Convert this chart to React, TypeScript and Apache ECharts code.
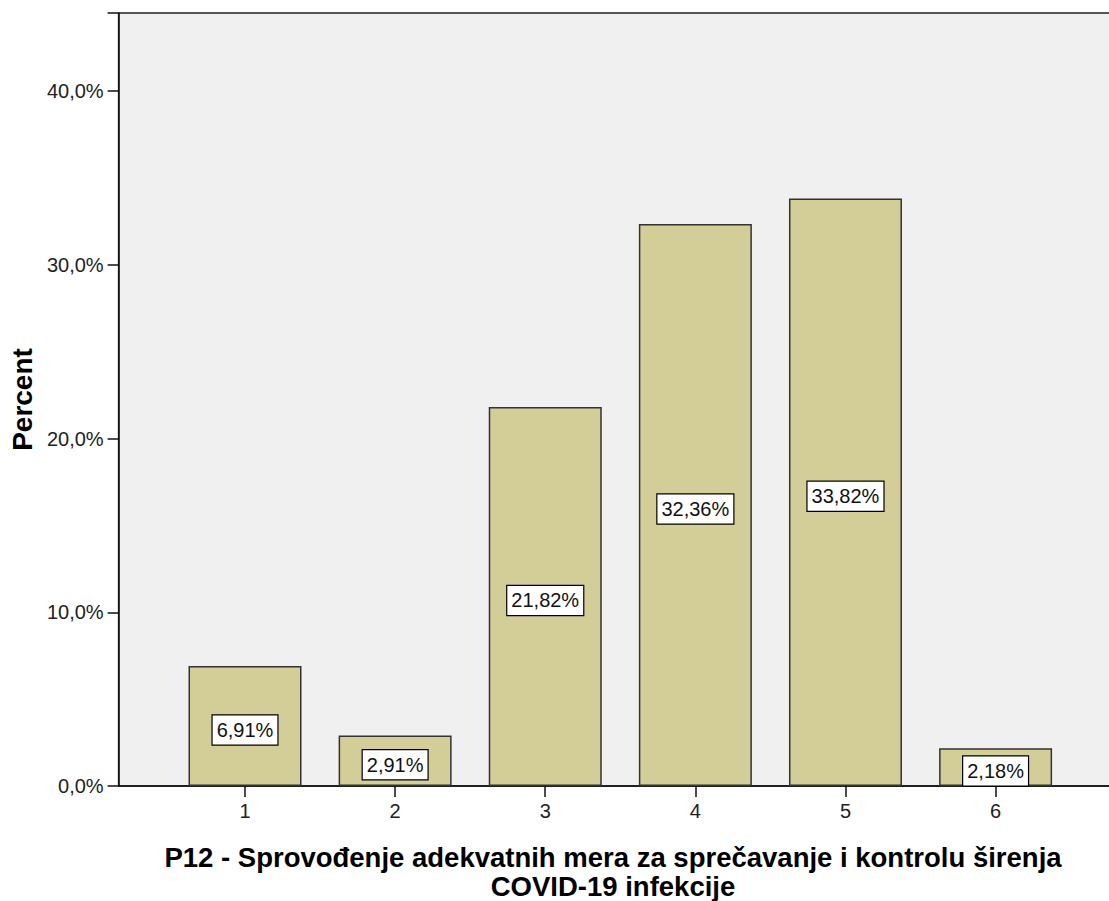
import React, { useEffect, useRef } from "react";
import * as echarts from "echarts";

const categories = ["1", "2", "3", "4", "5", "6"];
const percentValues = [6.91, 2.91, 21.82, 32.36, 33.82, 2.18];
const yTickValues = [0, 10, 20, 30, 40];
const yAxisTitle = "Percent";
const xAxisTitle = "P12 - Sprovođenje adekvatnih mera za sprečavanje i kontrolu širenja\nCOVID-19 infekcije";

const fmtComma = (v: number, d: number) => v.toFixed(d).replace(".", ",");

export default function App() {
  const ref = useRef<HTMLDivElement>(null);
  useEffect(() => {
    document.body.style.margin = "0";
    if (!ref.current) return;
    const chart = echarts.init(ref.current, null, { renderer: "svg" });
    const font = "'Liberation Sans', Arial, sans-serif";
    chart.setOption({
      animation: false,
      grid: {
        left: 117,
        top: 13,
        right: 0,
        bottom: 115,
        show: true,
        backgroundColor: "#f0f0f0",
        borderColor: "#222",
        borderWidth: 1.5,
      },
      xAxis: {
        type: "value",
        min: 0.158,
        max: 6.842,
        splitLine: { show: false },
        axisLine: { show: true, lineStyle: { color: "#111", width: 1.5 } },
        axisTick: {
          show: true,
          length: 11,
          lineStyle: { color: "#111", width: 1.5 },
          customValues: categories.map((_, i) => i + 1),
        },
        axisLabel: {
          customValues: categories.map((_, i) => i + 1),
          formatter: (v: number) => categories[Math.round(v) - 1] ?? "",
          fontSize: 20,
          fontFamily: font,
          color: "#222",
          margin: 15,
        },
      },
      yAxis: {
        type: "value",
        min: 0,
        max: 44.5,
        interval: 10,
        name: yAxisTitle,
        nameLocation: "middle",
        nameRotate: 90,
        nameGap: 82,
        nameTextStyle: { fontSize: 28, fontWeight: "bold", fontFamily: font, color: "#000" },
        splitLine: { show: false },
        axisLine: { show: true, lineStyle: { color: "#111", width: 1.5 } },
        axisTick: { show: true, length: 11, lineStyle: { color: "#111", width: 1.5 } },
        axisLabel: {
          customValues: yTickValues,
          formatter: (v: number) => fmtComma(v, 1) + "%",
          fontSize: 20,
          fontFamily: font,
          color: "#222",
          margin: 15,
        },
      },
      graphic: [
        {
          type: "text",
          x: 613,
          y: 843,
          style: {
            text: xAxisTitle,
            textAlign: "center",
            textVerticalAlign: "top",
            fontSize: 27.5,
            fontWeight: "bold",
            fontFamily: font,
            lineHeight: 29,
            fill: "#000",
          },
        },
      ],
      series: [
        {
          type: "bar",
          barWidth: 113,
          data: percentValues.map((v, i) => [i + 1, v]),
          itemStyle: { color: "#d3ce97", borderColor: "#333", borderWidth: 1.5 },
          label: {
            show: true,
            position: "inside",
            offset: [0, 4],
            formatter: (p: any) => fmtComma(p.value[1], 2) + "%",
            fontSize: 20,
            fontFamily: font,
            color: "#111",
            backgroundColor: "#fff",
            borderColor: "#000",
            borderWidth: 1.2,
            padding: [5, 4, 4, 4],
          },
        },
      ],
    });
    return () => chart.dispose();
  }, []);
  return (
    <div style={{ width: 1109, height: 901, overflow: "hidden" }}>
      <div ref={ref} style={{ width: 1122, height: 901 }} />
    </div>
  );
}
